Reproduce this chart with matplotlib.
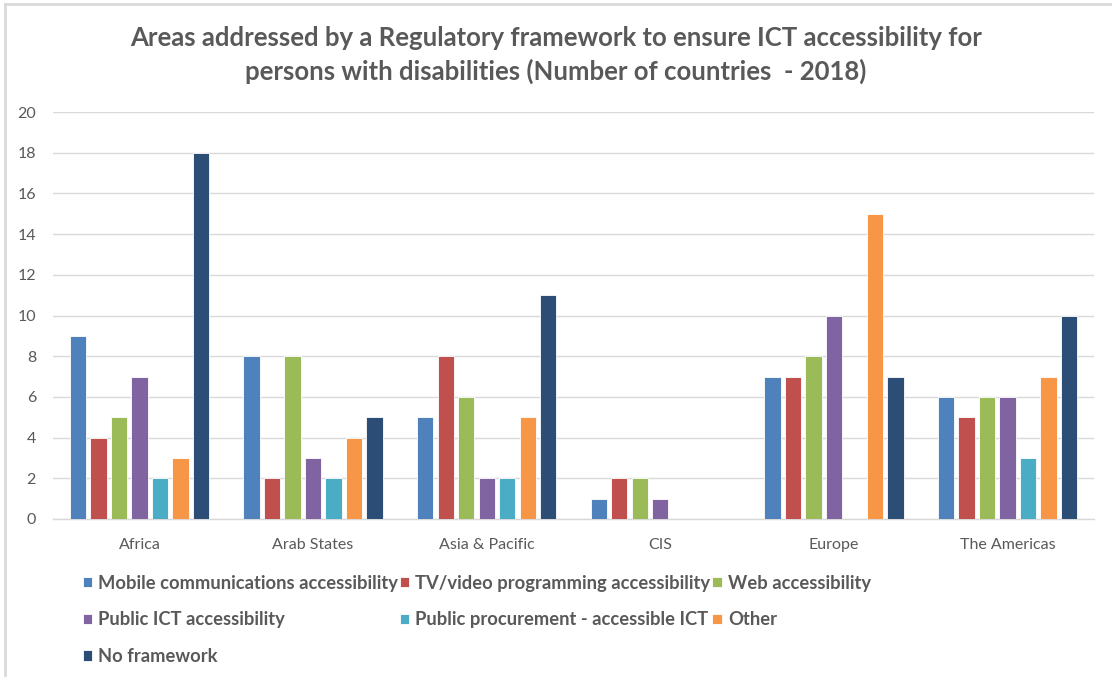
import matplotlib.pyplot as plt
import numpy as np
from matplotlib.lines import Line2D

# data
regions = ["Africa", "Arab States", "Asia & Pacific", "CIS", "Europe", "The Americas"]
series_names = ["Mobile communications accessibility",
                "TV/video programming accessibility",
                "Web accessibility",
                "Public ICT accessibility",
                "Public procurement - accessible ICT",
                "Other",
                "No framework"]
mobile = [9, 8, 5, 1, 7, 6]
tv_video = [4, 2, 8, 2, 7, 5]
web = [5, 8, 6, 2, 8, 6]
public_ict = [7, 3, 2, 1, 10, 6]
procurement = [2, 2, 2, 0, 0, 3]
other = [3, 4, 5, 0, 15, 7]
no_framework = [18, 5, 11, 0, 7, 10]

series = [mobile, tv_video, web, public_ict, procurement, other, no_framework]
colors = ["#4F81BD", "#C0504D", "#9BBB59", "#8064A2", "#4BACC6", "#F79646", "#2C4D75"]

plt.rcParams['font.family'] = ['Lato', 'DejaVu Sans']
text_color = "#595959"

W, H = 1112, 677
fig = plt.figure(figsize=(W / 100, H / 100), dpi=100)
ax = fig.add_axes([52.7 / W, 1 - 519 / H, (1094.3 - 52.7) / W, (519 - 112) / H])

x = np.arange(len(regions))
step = 0.118
width = 0.094
handles = []
for j, (vals, col) in enumerate(zip(series, colors)):
    h = np.array(vals, dtype=float)
    h[h == 0] = np.nan
    b = ax.bar(x + (j - 3) * step, h, width, color=col,
               edgecolor="white", linewidth=0.6, zorder=3)
    handles.append(b)

ax.set_xlim(-0.5, len(regions) - 0.5)
ax.set_ylim(0, 20)
ax.set_yticks(range(0, 21, 2))
ax.set_xticks(x)
ax.set_xticklabels(regions)
ax.yaxis.grid(True, color="#D9D9D9", linewidth=1, zorder=0)
ax.set_axisbelow(True)
for s in ["top", "right", "left"]:
    ax.spines[s].set_visible(False)
ax.spines["bottom"].set_color("#D9D9D9")
ax.spines["bottom"].set_linewidth(1)
ax.tick_params(axis="both", length=0, labelsize=11.5, colors=text_color)
ax.tick_params(axis="y", pad=12)
ax.tick_params(axis="x", pad=14)

fig.text(0.5, 1 - 55 / H,
         "Areas addressed by a Regulatory framework to ensure ICT accessibility for\n"
         "persons with disabilities (Number of countries  - 2018)",
         ha="center", va="center", fontsize=18.5, fontweight="bold",
         color=text_color, linespacing=1.4)

# legend, filled column by column to get Excel's row order
order = [0, 3, 6, 1, 4, 2, 5]
leg = fig.legend([handles[i] for i in order], [series_names[i] for i in order],
                 ncol=3, loc="upper left", bbox_to_anchor=(66 / W, 1 - 558 / H),
                 frameon=False, handlelength=0.5, handleheight=0.5,
                 handletextpad=0.35, columnspacing=0.1, labelspacing=1.08,
                 prop={"weight": "bold", "size": 13.2})
for t in leg.get_texts():
    t.set_color(text_color)

# chart area border (top and left only visible)
fig.add_artist(Line2D([5 / W, 1], [1 - 4 / H, 1 - 4 / H], color="#D9D9D9", linewidth=2))
fig.add_artist(Line2D([5 / W, 5 / W], [0, 1 - 4 / H], color="#D9D9D9", linewidth=2))

fig.savefig("out.png", dpi=100)
